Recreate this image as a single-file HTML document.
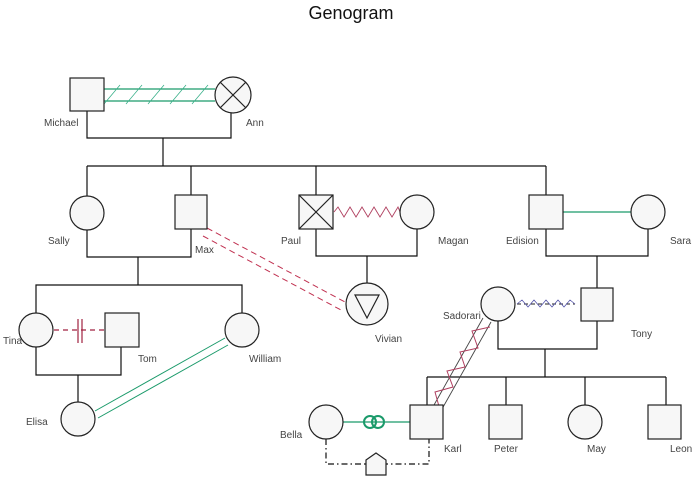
<!DOCTYPE html>
<html><head><meta charset="utf-8"><style>
html,body{margin:0;padding:0;background:#fff;}
svg{display:block;}
text{font-family:"Liberation Sans",sans-serif;font-size:10px;fill:#444;}
</style></head><body>
<svg width="700" height="490" viewBox="0 0 700 490" xmlns="http://www.w3.org/2000/svg">
<text x="351" y="19" text-anchor="middle" style="font-size:18px;fill:#111">Genogram</text>
<g stroke="#111" stroke-width="1.2" fill="none">
<!-- gen1 -->
<polyline points="87,111 87,138 231,138 231,113"/>
<line x1="163" y1="138" x2="163" y2="166"/>
<line x1="87" y1="166" x2="546" y2="166"/>
<line x1="87" y1="166" x2="87" y2="196"/>
<line x1="191" y1="166" x2="191" y2="195"/>
<line x1="316" y1="166" x2="316" y2="195"/>
<line x1="546" y1="166" x2="546" y2="195"/>
<!-- sally max -->
<polyline points="87,229 87,257 191,257 191,229"/>
<line x1="138" y1="257" x2="138" y2="285"/>
<polyline points="36,313 36,285 242,285 242,313"/>
<polyline points="36,347 36,375 121,375 121,347"/>
<line x1="78" y1="375" x2="78" y2="402"/>
<!-- paul magan -->
<polyline points="316,229 316,256 417,256 417,229"/>
<line x1="367" y1="256" x2="367" y2="283"/>
<!-- edision sara -->
<polyline points="546,229 546,256 648,256 648,229"/>
<line x1="597" y1="256" x2="597" y2="288"/>
<!-- sadorari tony -->
<polyline points="498,321 498,349 597,349 597,321"/>
<line x1="545" y1="349" x2="545" y2="377"/>
<line x1="427" y1="377" x2="666" y2="377"/>
<line x1="427" y1="377" x2="427" y2="405"/>
<line x1="506" y1="377" x2="506" y2="405"/>
<line x1="585" y1="377" x2="585" y2="405"/>
<line x1="666" y1="377" x2="666" y2="405"/>
<polyline points="326,439 326,464 429,464 429,439" stroke-dasharray="6,3,1.5,3"/>
</g>
<!-- relationship lines -->
<g fill="none">
<line x1="104" y1="89" x2="215" y2="89" stroke="#1a9a6a" stroke-width="1.2"/>
<line x1="104" y1="101" x2="215" y2="101" stroke="#1a9a6a" stroke-width="1.2"/>
<path d="M104,104 L120,85 M126,104 L142,85 M148,104 L164,85 M170,104 L186,85 M192,104 L208,85" stroke="#3ab08a" stroke-width="0.8"/>
<polyline points="334,212 338,207 344,217 350,207 356,217 362,207 368,217 374,207 380,217 386,207 392,217 398,207 400,212" stroke="#b04060" stroke-width="0.9"/>
<line x1="563" y1="212" x2="631" y2="212" stroke="#1a9a6a" stroke-width="1.2"/>
<line x1="517" y1="304" x2="575" y2="304" stroke="#222" stroke-width="1" stroke-dasharray="4,3"/>
<polyline points="517,304 522,300 528,307 534,300 540,307 546,300 552,307 558,300 564,307 570,300 575,304" stroke="#5555aa" stroke-width="0.8"/>
<line x1="207" y1="228" x2="345" y2="302" stroke="#c03050" stroke-width="1" stroke-dasharray="6,4"/>
<line x1="203" y1="236" x2="341" y2="310" stroke="#c03050" stroke-width="1" stroke-dasharray="6,4"/>
<line x1="95" y1="411" x2="225" y2="338" stroke="#1a9a6a" stroke-width="1"/>
<line x1="98" y1="418" x2="228" y2="345" stroke="#1a9a6a" stroke-width="1"/>
<line x1="54" y1="330" x2="105" y2="330" stroke="#a02040" stroke-width="1.2" stroke-dasharray="5,4"/>
<line x1="78" y1="319" x2="78" y2="343" stroke="#a02040" stroke-width="1.2"/>
<line x1="82" y1="319" x2="82" y2="343" stroke="#a02040" stroke-width="1.2"/>
<line x1="483" y1="318" x2="434" y2="405" stroke="#444" stroke-width="0.9"/>
<line x1="491" y1="322" x2="442" y2="409" stroke="#444" stroke-width="0.9"/>
<polyline points="490,327 472,331 478,348 460,352 465,367 447,371 453,387 435,392 440,410" stroke="#b04060" stroke-width="1"/>
<polyline points="486,325 472,331 M478,348 M" stroke="none"/>
<line x1="343" y1="422" x2="410" y2="422" stroke="#1a9a6a" stroke-width="1.2"/>
<circle cx="370" cy="422" r="6" stroke="#1a9a6a" stroke-width="2"/>
<circle cx="378" cy="422" r="6" stroke="#1a9a6a" stroke-width="2"/>
</g>
<!-- nodes -->
<g stroke="#222" stroke-width="1.2" fill="#f7f7f7">
<rect x="70" y="78" width="34" height="33"/>
<circle cx="233" cy="95" r="18"/>
<line x1="220" y1="82" x2="246" y2="108"/><line x1="246" y1="82" x2="220" y2="108"/>
<circle cx="87" cy="213" r="17"/>
<rect x="175" y="195" width="32" height="34"/>
<rect x="299" y="195" width="34" height="34"/>
<line x1="299" y1="195" x2="333" y2="229"/><line x1="333" y1="195" x2="299" y2="229"/>
<circle cx="417" cy="212" r="17"/>
<rect x="529" y="195" width="34" height="34"/>
<circle cx="648" cy="212" r="17"/>
<circle cx="36" cy="330" r="17"/>
<rect x="105" y="313" width="34" height="34"/>
<circle cx="242" cy="330" r="17"/>
<circle cx="78" cy="419" r="17"/>
<circle cx="367" cy="304" r="21"/>
<polygon points="355,295 379,295 367,318" fill="none"/>
<circle cx="498" cy="304" r="17"/>
<rect x="581" y="288" width="32" height="33"/>
<circle cx="326" cy="422" r="17"/>
<rect x="410" y="405" width="33" height="34"/>
<rect x="489" y="405" width="33" height="34"/>
<circle cx="585" cy="422" r="17"/>
<rect x="648" y="405" width="33" height="34"/>
<polygon points="366,460 376,453 386,460 386,475 366,475"/>
</g>
<text x="44" y="126">Michael</text>
<text x="246" y="126">Ann</text>
<text x="48" y="244">Sally</text>
<text x="195" y="253">Max</text>
<text x="281" y="244">Paul</text>
<text x="438" y="244">Magan</text>
<text x="506" y="244">Edision</text>
<text x="670" y="244">Sara</text>
<text x="3" y="344">Tina</text>
<text x="138" y="362">Tom</text>
<text x="249" y="362">William</text>
<text x="26" y="425">Elisa</text>
<text x="375" y="342">Vivian</text>
<text x="443" y="319">Sadorari</text>
<text x="631" y="337">Tony</text>
<text x="280" y="438">Bella</text>
<text x="444" y="452">Karl</text>
<text x="494" y="452">Peter</text>
<text x="587" y="452">May</text>
<text x="670" y="452">Leon</text>
</svg>
</body></html>
